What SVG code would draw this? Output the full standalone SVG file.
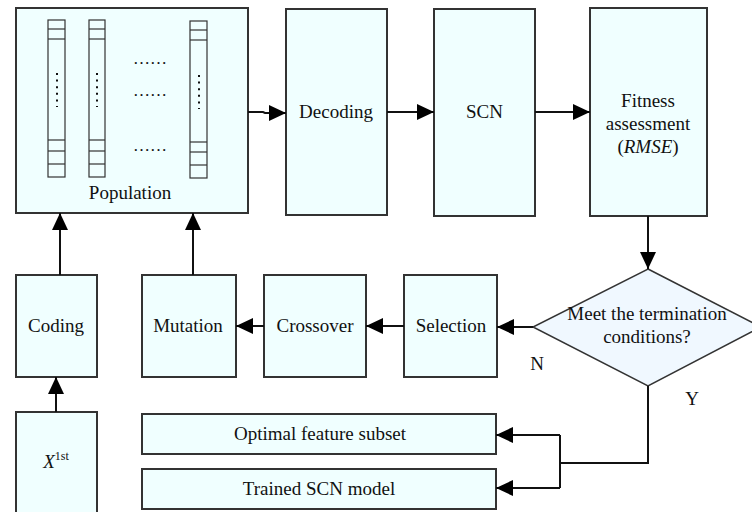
<svg xmlns="http://www.w3.org/2000/svg" width="752" height="512" viewBox="0 0 752 512">
<defs>
<style>
.box{fill:#F0FFFF;stroke:#333;stroke-width:2}
.dia{fill:#F0F8FF;stroke:#333;stroke-width:1.5}
.cell{fill:none;stroke:#333;stroke-width:1.2}
.line{fill:none;stroke:#111;stroke-width:2}
.dots{stroke:#111;stroke-width:2;stroke-dasharray:2 4.6}
</style>
<marker id="ah" markerUnits="userSpaceOnUse" markerWidth="17" markerHeight="16" refX="17" refY="8" orient="auto">
<path d="M0,0 L17,8 L0,16 z" fill="#000"/>
</marker>
</defs>

<g id="population">
<rect class="box" x="16" y="8" width="232" height="205"/>
<g id="chrom1">
<rect class="cell" x="48" y="20" width="17" height="157"/>
<line class="cell" x1="48" y1="29" x2="65" y2="29"/>
<line class="cell" x1="48" y1="39" x2="65" y2="39"/>
<line class="cell" x1="48" y1="140" x2="65" y2="140"/>
<line class="cell" x1="48" y1="151" x2="65" y2="151"/>
<line class="cell" x1="48" y1="164" x2="65" y2="164"/>
<line class="dots" x1="57" y1="73" x2="57" y2="107"/>
</g>
<g id="chrom2">
<rect class="cell" x="89" y="20" width="16" height="157"/>
<line class="cell" x1="89" y1="29" x2="105" y2="29"/>
<line class="cell" x1="89" y1="39" x2="105" y2="39"/>
<line class="cell" x1="89" y1="140" x2="105" y2="140"/>
<line class="cell" x1="89" y1="151" x2="105" y2="151"/>
<line class="cell" x1="89" y1="164" x2="105" y2="164"/>
<line class="dots" x1="97" y1="73" x2="97" y2="107"/>
</g>
<g id="chromN">
<rect class="cell" x="190" y="21" width="17" height="157"/>
<line class="cell" x1="190" y1="30" x2="207" y2="30"/>
<line class="cell" x1="190" y1="40" x2="207" y2="40"/>
<line class="cell" x1="190" y1="142" x2="207" y2="142"/>
<line class="cell" x1="190" y1="152" x2="207" y2="152"/>
<line class="cell" x1="190" y1="165" x2="207" y2="165"/>
<line class="dots" x1="199" y1="75" x2="199" y2="109"/>
</g>
<text x="150" y="64" font-family="Liberation Serif" font-size="17" text-anchor="middle" fill="#111">……</text>
<text x="150" y="96" font-family="Liberation Serif" font-size="17" text-anchor="middle" fill="#111">……</text>
<text x="150" y="151" font-family="Liberation Serif" font-size="17" text-anchor="middle" fill="#111">……</text>
<text x="130" y="199" font-family="Liberation Serif" font-size="19" text-anchor="middle" fill="#111">Population</text>
</g>

<g id="decoding">
<rect class="box" x="286" y="9" width="101" height="206"/>
<text x="336" y="118" font-family="Liberation Serif" font-size="19" text-anchor="middle" fill="#111">Decoding</text>
</g>

<g id="scn">
<rect class="box" x="434" y="9" width="101" height="207"/>
<text x="484.5" y="118" font-family="Liberation Serif" font-size="19" text-anchor="middle" fill="#111">SCN</text>
</g>

<g id="fitness">
<rect class="box" x="590" y="8" width="117" height="208"/>
<text x="648" y="107" font-family="Liberation Serif" font-size="19" text-anchor="middle" fill="#111">Fitness</text>
<text x="648" y="130" font-family="Liberation Serif" font-size="19" text-anchor="middle" fill="#111">assessment</text>
<text x="648" y="153" font-family="Liberation Serif" font-size="19" text-anchor="middle" fill="#111">(<tspan font-style="italic">RMSE</tspan>)</text>
</g>

<g id="termination">
<polygon class="dia" points="648,269 761,327 648,386 533,327"/>
<text x="647" y="320" font-family="Liberation Serif" font-size="19" text-anchor="middle" fill="#111">Meet the termination</text>
<text x="647" y="343" font-family="Liberation Serif" font-size="19" text-anchor="middle" fill="#111">conditions?</text>
</g>

<g id="selection">
<rect class="box" x="404" y="275" width="93" height="102"/>
<text x="451" y="332" font-family="Liberation Serif" font-size="19" text-anchor="middle" fill="#111">Selection</text>
</g>

<g id="crossover">
<rect class="box" x="264" y="275" width="102" height="102"/>
<text x="315" y="332" font-family="Liberation Serif" font-size="19" text-anchor="middle" fill="#111">Crossover</text>
</g>

<g id="mutation">
<rect class="box" x="142" y="275" width="94" height="102"/>
<text x="188" y="332" font-family="Liberation Serif" font-size="19" text-anchor="middle" fill="#111">Mutation</text>
</g>

<g id="coding">
<rect class="box" x="16" y="275" width="81" height="102"/>
<text x="56" y="332" font-family="Liberation Serif" font-size="19" text-anchor="middle" fill="#111">Coding</text>
</g>

<g id="x1st">
<rect class="box" x="16" y="412" width="81" height="110"/>
<text x="56" y="468" font-family="Liberation Serif" font-size="19" text-anchor="middle" fill="#111"><tspan font-style="italic">X</tspan><tspan dy="-8" font-size="12">1st</tspan></text>
</g>

<g id="optimal">
<rect class="box" x="142" y="414" width="354" height="40"/>
<text x="320" y="440" font-family="Liberation Serif" font-size="19" text-anchor="middle" fill="#111">Optimal feature subset</text>
</g>

<g id="trained">
<rect class="box" x="142" y="469" width="354" height="40"/>
<text x="319" y="495" font-family="Liberation Serif" font-size="19" text-anchor="middle" fill="#111">Trained SCN model</text>
</g>

<g id="connectors">
<path class="line" d="M248,112 L263,112 L265,113 L286,113" marker-end="url(#ah)"/>
<path class="line" d="M387,112 L434,112" marker-end="url(#ah)"/>
<path class="line" d="M535,112 L590,112" marker-end="url(#ah)"/>
<path class="line" d="M648,216 L648,269" marker-end="url(#ah)"/>
<path class="line" d="M533,327 L497,327" marker-end="url(#ah)"/>
<path class="line" d="M404,326 L366,326" marker-end="url(#ah)"/>
<path class="line" d="M264,326 L236,326" marker-end="url(#ah)"/>
<path class="line" d="M60,275 L60,213" marker-end="url(#ah)"/>
<path class="line" d="M193,275 L193,213" marker-end="url(#ah)"/>
<path class="line" d="M56,412 L56,377" marker-end="url(#ah)"/>
<path class="line" d="M648,386 L648,463 L560,463"/>
<path class="line" d="M560,435 L560,488"/>
<path class="line" d="M560,435 L496,435" marker-end="url(#ah)"/>
<path class="line" d="M560,488 L496,488" marker-end="url(#ah)"/>
<text x="537" y="370" font-family="Liberation Serif" font-size="19" text-anchor="middle" fill="#111">N</text>
<text x="692" y="405" font-family="Liberation Serif" font-size="19" text-anchor="middle" fill="#111">Y</text>
</g>
</svg>
